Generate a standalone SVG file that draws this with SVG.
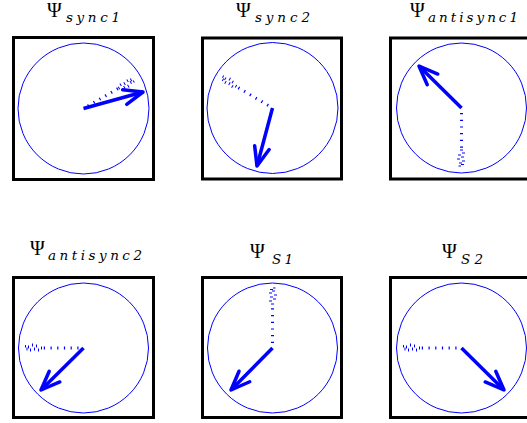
<svg xmlns="http://www.w3.org/2000/svg" xmlns:xlink="http://www.w3.org/1999/xlink" width="527" height="423" viewBox="0 0 527 423">
<style>
.box{fill:#fff;stroke:#000;stroke-width:3}
.circ{fill:none;stroke:#0000ff;stroke-width:1}
.trail{stroke:#0000ff;stroke-width:3;stroke-dasharray:1.2 5.5;fill:none}
.tick{stroke:#0000ff;stroke-width:1}
.arrow{stroke:#0000ff;stroke-width:3.5;fill:none;marker-end:url(#ah)}
.psi{font-family:"Liberation Serif","DejaVu Serif",serif;font-size:20px;fill:#000}
.sub{font-family:"DejaVu Serif","Liberation Serif",serif;font-size:13.5px;font-style:italic;fill:#000}
</style>
<defs>
<marker id="ah" markerUnits="userSpaceOnUse" viewBox="-25 -15 30 30" markerWidth="30" markerHeight="30" refX="0" refY="0" orient="auto" overflow="visible">
<path d="M-19,-7.5 L0,0 L-19,7.5" fill="none" stroke="#0000ff" stroke-width="3.5" stroke-linecap="round" stroke-linejoin="round"/>
</marker>
<g id="scatter">
<line class="tick" x1="-16" y1="-1.5" x2="-16" y2="1.5"/>
<line class="tick" x1="-13" y1="-3.5" x2="-13" y2="-0.5"/>
<line class="tick" x1="-11" y1="0.5" x2="-11" y2="3.5"/>
<line class="tick" x1="-9" y1="-2.5" x2="-9" y2="0.5"/>
<line class="tick" x1="-7" y1="1.5" x2="-7" y2="4.5"/>
<line class="tick" x1="-5" y1="-3.5" x2="-5" y2="-0.5"/>
<line class="tick" x1="-3" y1="-0.5" x2="-3" y2="2.5"/>
<line class="tick" x1="-1.5" y1="-2.5" x2="-1.5" y2="0.5"/>
<line class="tick" x1="0" y1="0.5" x2="0" y2="3"/>
</g>
</defs>
<rect width="527" height="423" fill="#fff"/>

<g id="panel-sync1">
<rect class="box" x="13.5" y="37.5" width="140" height="142"/>
<circle class="circ" cx="83.5" cy="108.5" r="65.5"/>
<g transform="translate(83.5,108.5) rotate(-30)">
<line class="trail" x1="5" y1="0" x2="42" y2="0"/>
<use xlink:href="#scatter" transform="translate(57,0)"/>
</g>
<line class="arrow" x1="83.5" y1="108.5" x2="143" y2="92"/>
<text class="psi" x="47" y="17">Ψ</text>
<text class="sub" x="66" y="21.5" textLength="54" lengthAdjust="spacing">sync1</text>
</g>

<g id="panel-sync2">
<rect class="box" x="202.5" y="38" width="139" height="141"/>
<circle class="circ" cx="272.5" cy="108" r="65.5"/>
<g transform="translate(272.5,108) rotate(-149.3)">
<line class="trail" x1="5" y1="0" x2="43" y2="0"/>
<use xlink:href="#scatter" transform="translate(58.5,0)"/>
</g>
<line class="arrow" x1="272.5" y1="108" x2="257" y2="166"/>
<text class="psi" x="236" y="17">Ψ</text>
<text class="sub" x="255" y="21.5" textLength="55" lengthAdjust="spacing">sync2</text>
</g>

<g id="panel-antisync1">
<rect class="box" x="390.5" y="38" width="140" height="141"/>
<circle class="circ" cx="461.5" cy="108" r="65"/>
<g transform="translate(461.5,108) rotate(90)">
<line class="trail" x1="5" y1="0" x2="42" y2="0"/>
<use xlink:href="#scatter" transform="translate(58,0)"/>
</g>
<line class="arrow" x1="461.5" y1="108" x2="419" y2="66"/>
<text class="psi" x="410" y="17">Ψ</text>
<text class="sub" x="428" y="21.5" textLength="90" lengthAdjust="spacing">antisync1</text>
</g>

<g id="panel-antisync2">
<rect class="box" x="13.5" y="277.5" width="140" height="140"/>
<circle class="circ" cx="83.5" cy="348" r="65"/>
<g transform="translate(83.5,348) rotate(180)">
<line class="trail" x1="5" y1="0" x2="42" y2="0"/>
<use xlink:href="#scatter" transform="translate(58,0)"/>
</g>
<line class="arrow" x1="83.5" y1="348" x2="41" y2="390"/>
<text class="psi" x="30" y="255">Ψ</text>
<text class="sub" x="48" y="260" textLength="94" lengthAdjust="spacing">antisync2</text>
</g>

<g id="panel-S1">
<rect class="box" x="202.5" y="277.5" width="139" height="140"/>
<circle class="circ" cx="272.5" cy="348" r="65"/>
<g transform="translate(272.5,348) rotate(-90)">
<line class="trail" x1="5" y1="0" x2="44" y2="0"/>
<use xlink:href="#scatter" transform="translate(60,0)"/>
</g>
<line class="arrow" x1="272.5" y1="348" x2="231" y2="390"/>
<text class="psi" x="250" y="258">Ψ</text>
<text class="sub" x="272" y="264" textLength="21" lengthAdjust="spacing">S1</text>
</g>

<g id="panel-S2">
<rect class="box" x="390.5" y="277.5" width="140" height="140"/>
<circle class="circ" cx="461.5" cy="348" r="65"/>
<g transform="translate(461.5,348) rotate(180)">
<line class="trail" x1="5" y1="0" x2="42" y2="0"/>
<use xlink:href="#scatter" transform="translate(58,0)"/>
</g>
<line class="arrow" x1="461.5" y1="348" x2="504" y2="390"/>
<text class="psi" x="442" y="258">Ψ</text>
<text class="sub" x="461" y="264" textLength="22" lengthAdjust="spacing">S2</text>
</g>
</svg>
